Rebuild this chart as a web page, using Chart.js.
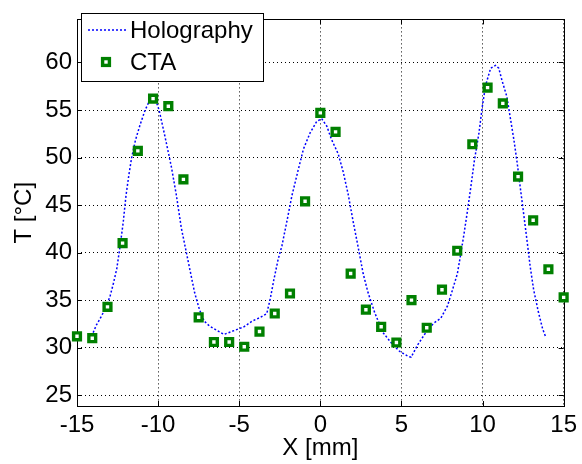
<!DOCTYPE html>
<html>
<head>
<meta charset="utf-8">
<script src="https://cdn.jsdelivr.net/npm/chart.js@4/dist/chart.umd.min.js"></script>
<style>
  html, body { margin: 0; padding: 0; background: #fff; }
  #wrap { width: 582px; height: 464px; }
</style>
</head>
<body>
<div id="wrap"><canvas id="myChart" width="582" height="464"></canvas></div>
<script>
// CTA measurements
const ctaX = [-15, -14.06, -13.12, -12.19, -11.25, -10.31, -9.37, -8.44, -7.5, -6.56, -5.62, -4.69, -3.75, -2.81, -1.87, -0.94,
  0, 0.94, 1.87, 2.81, 3.75, 4.69, 5.62, 6.56, 7.5, 8.44, 9.37, 10.31, 11.25, 12.19, 13.12, 14.06, 15];
const ctaT = [31.2, 31.0, 34.3, 41.0, 50.7, 56.2, 55.4, 47.7, 33.2, 30.6, 30.6, 30.1, 31.7, 33.6, 35.7, 45.4,
  54.7, 52.7, 37.8, 34.0, 32.2, 30.55, 35.0, 32.1, 36.1, 40.2, 51.4, 57.35, 55.7, 48.0, 43.4, 38.25, 35.3];

// Holography profile
const holoX = [-14.1, -13.8, -13.5, -13.2, -12.95, -12.75, -12.55, -12.35, -12.15, -11.98, -11.8, -11.63, -11.4, -11.12, -10.8, -10.55,
  -10.3, -10.1, -9.94, -9.6, -9.18, -8.88, -8.57, -8.16, -7.75, -7.45, -7.16, -6.85, -6.55, -5.94, -5.32, -4.71,
  -4.2, -3.69, -3.3, -3.08, -2.87, -2.6, -2.37, -2.06, -1.75, -1.35, -1.04, -0.63, -0.22, 0.08, 0.4, 0.69,
  1.1, 1.41, 1.72, 2.02, 2.33, 2.64, 2.94, 3.35, 3.86, 4.47, 4.9, 5.4, 5.6, 6.0, 6.62, 7.0,
  7.43, 7.84, 8.15, 8.45, 8.66, 8.86, 9.07, 9.27, 9.48, 9.78, 9.98, 10.19, 10.5, 10.8, 11.0, 11.2,
  11.5, 11.7, 11.93, 12.13, 12.33, 12.54, 12.74, 12.94, 13.15, 13.45, 13.7, 13.9];
const holoT = [31.2, 32.4, 33.3, 34.3, 35.5, 36.8, 38.3, 40.6, 43.2, 46.0, 48.2, 50.0, 51.8, 53.4, 55.0, 55.9,
  56.3, 55.8, 55.0, 52.4, 49.0, 46.1, 42.6, 39.2, 35.8, 34.0, 32.8, 32.3, 32.0, 31.4, 31.8, 32.2,
  32.8, 33.2, 33.6, 35.2, 37.1, 39.3, 40.7, 43.3, 46.0, 48.8, 50.9, 52.6, 53.8, 54.1, 53.3, 51.9,
  50.4, 48.5, 46.1, 43.3, 40.6, 37.8, 35.8, 33.7, 31.6, 30.3, 29.6, 29.1, 29.0, 30.3, 31.9, 32.6,
  33.1, 34.4, 36.1, 37.8, 39.9, 42.0, 44.4, 46.8, 49.5, 52.6, 55.3, 57.6, 59.4, 59.7, 59.4, 58.1,
  56.4, 54.3, 51.9, 49.5, 46.8, 44.0, 41.3, 38.5, 36.1, 33.7, 32.0, 31.1];

const xTicks = [-15, -10, -5, 0, 5, 10, 15];
const yTicks = [25, 30, 35, 40, 45, 50, 55, 60];

const FONT = 'Liberation Sans, Arial, sans-serif';
const BLUE = 'rgb(0,0,255)';
const GREEN = 'rgb(0,128,0)';

const pts = (xs, ys) => xs.map((x, i) => ({x: x, y: ys[i]}));

// frame, inner tick marks and legend box
const matlabAxes = {
  id: 'matlabAxes',
  beforeDatasetsDraw(chart) {
    const {ctx, chartArea: a, scales} = chart;
    ctx.save();
    ctx.strokeStyle = '#000';
    ctx.lineWidth = 1;
    ctx.setLineDash([]);
    ctx.beginPath();
    xTicks.forEach(v => {
      const px = Math.round(scales.x.getPixelForValue(v)) + 0.5;
      ctx.moveTo(px, a.bottom); ctx.lineTo(px, a.bottom - 5);
      ctx.moveTo(px, a.top); ctx.lineTo(px, a.top + 5);
    });
    yTicks.forEach(v => {
      const py = Math.round(scales.y.getPixelForValue(v)) + 0.5;
      ctx.moveTo(a.left, py); ctx.lineTo(a.left + 5, py);
      ctx.moveTo(a.right, py); ctx.lineTo(a.right - 5, py);
    });
    ctx.stroke();
    ctx.strokeRect(Math.round(a.left) + 0.5, Math.round(a.top) + 0.5,
      Math.round(a.right - a.left), Math.round(a.bottom - a.top));
    ctx.restore();
  },
  afterDraw(chart) {
    const ctx = chart.ctx;
    ctx.save();
    ctx.fillStyle = '#fff';
    ctx.fillRect(81, 13, 182, 68);
    ctx.strokeStyle = '#000';
    ctx.lineWidth = 1;
    ctx.strokeRect(81.5, 13.5, 182, 68);
    // line sample
    ctx.strokeStyle = BLUE;
    ctx.lineWidth = 1.5;
    ctx.setLineDash([2, 2]);
    ctx.beginPath();
    ctx.moveTo(88, 30); ctx.lineTo(128, 30);
    ctx.stroke();
    ctx.setLineDash([]);
    // marker sample
    ctx.strokeStyle = GREEN;
    ctx.lineWidth = 3.4;
    ctx.fillStyle = '#fff';
    ctx.fillRect(102.6, 58.6, 6.8, 6.8);
    ctx.strokeRect(102.6, 58.6, 6.8, 6.8);
    ctx.fillStyle = '#000';
    ctx.font = '24px ' + FONT;
    ctx.textBaseline = 'middle';
    ctx.textAlign = 'left';
    ctx.fillText('Holography', 130, 31);
    ctx.fillText('CTA', 130, 63);
    ctx.restore();
  }
};

const data = {
  datasets: [
    {
      label: 'CTA',
      data: pts(ctaX, ctaT),
      showLine: false,
      clip: false,
      pointStyle: 'rect',
      pointRadius: 4.8,
      pointHoverRadius: 4.8,
      pointBorderWidth: 3.4,
      pointBorderColor: GREEN,
      pointBackgroundColor: '#fff',
      order: 0
    },
    {
      label: 'Holography',
      data: pts(holoX, holoT),
      showLine: true,
      clip: false,
      borderColor: BLUE,
      borderWidth: 1.5,
      borderDash: [2, 2],
      pointRadius: 0,
      tension: 0,
      order: 1
    }
  ]
};

const config = {
  type: 'scatter',
  data: data,
  options: {
    responsive: false,
    animation: false,
    layout: { padding: { left: 0, top: 11, right: 15, bottom: 0 } },
    plugins: { legend: { display: false }, tooltip: { enabled: false } },
    scales: {
      x: {
        type: 'linear',
        min: -15, max: 15,
        afterBuildTicks: s => { s.ticks = xTicks.map(v => ({value: v})); },
        afterFit: s => { s.height = 58; },
        ticks: { color: '#000', padding: 5, font: { family: FONT, size: 24 }, maxRotation: 0 },
        grid: { color: '#000', lineWidth: 1, drawTicks: false },
        border: { display: false, dash: [1, 3] },
        title: { display: true, text: 'X [mm]', color: '#000', font: { family: FONT, size: 24 }, padding: { top: 0, bottom: 1 } }
      },
      y: {
        type: 'linear',
        min: 23.87, max: 64.53,
        afterBuildTicks: s => { s.ticks = yTicks.map(v => ({value: v})); },
        afterFit: s => { s.width = 77; },
        ticks: { color: '#000', padding: 5, font: { family: FONT, size: 24 } },
        grid: { color: '#000', lineWidth: 1, drawTicks: false },
        border: { display: false, dash: [1, 3] },
        title: { display: true, text: 'T [°C]', color: '#000', font: { family: FONT, size: 24 }, padding: { top: 10, bottom: 0 } }
      }
    }
  },
  plugins: [matlabAxes]
};

const myChart = new Chart(document.getElementById('myChart'), config);
</script>
</body>
</html>
